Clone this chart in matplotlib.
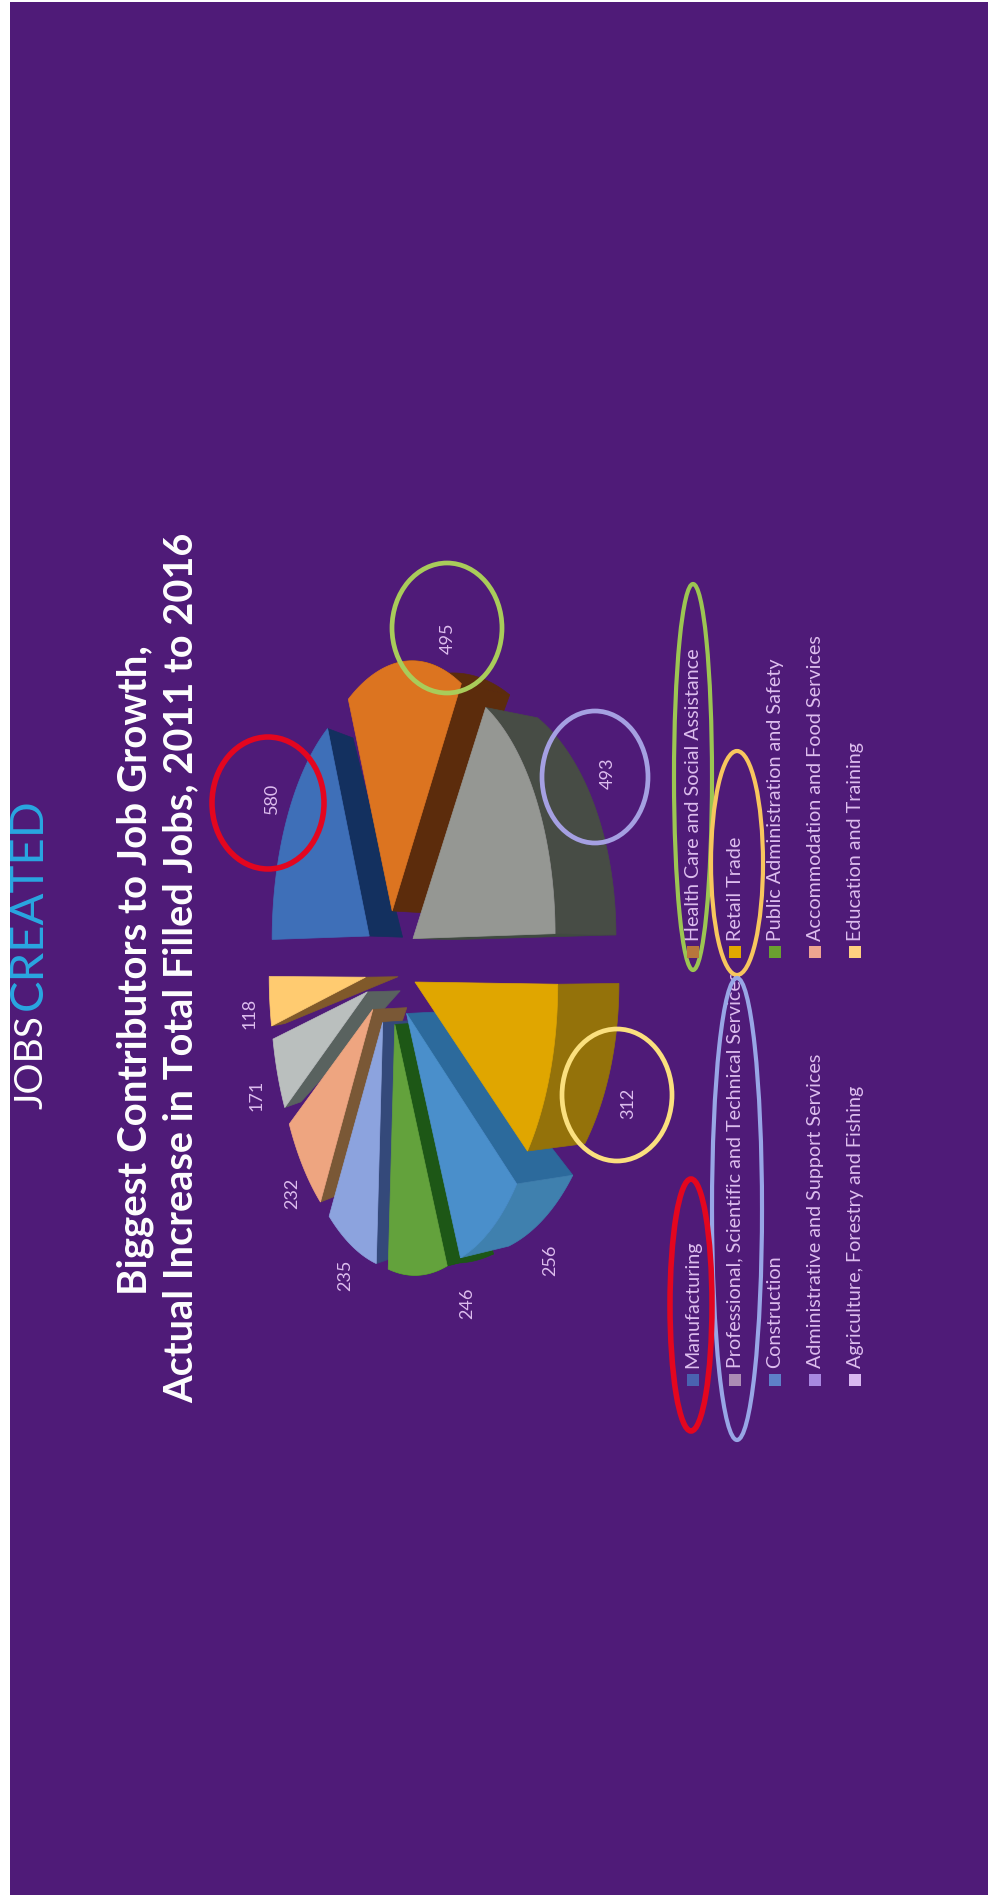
import numpy as np
import matplotlib
matplotlib.use('Agg')
import matplotlib.pyplot as plt
from matplotlib.patches import Polygon, Rectangle, Ellipse

plt.rcParams['font.family'] = ['Lato', 'DejaVu Sans']

categories = ['Manufacturing', 'Health Care and Social Assistance',
              'Professional, Scientific and Technical Services', 'Retail Trade',
              'Construction', 'Public Administration and Safety',
              'Administrative and Support Services', 'Accommodation and Food Services',
              'Agriculture, Forestry and Fishing', 'Education and Training']
values = [580, 495, 493, 312, 256, 246, 235, 232, 171, 118]

# slice colours in pie order: top face, cut face, rim
top_colors = ['#3E6FB8', '#DC7420', '#959793', '#E0A600', '#4A8FCB',
              '#63A23C', '#8CA3DE', '#EEA580', '#BABFBE', '#FFCB70']
cut_colors = ['#13305F', '#5C2C0C', '#3F4A40', '#8F6E00', '#2C6A9C',
              '#1D5716', '#34497A', '#7A5836', '#59625F', '#80592A']
rim_colors = ['#13305F', '#5C2C0C', '#474C45', '#94720A', '#3F80AE',
              '#1D5716', '#34497A', '#7A5836', '#59625F', '#80592A']

legend_colors = ['#4A62B0', '#B8763C', '#AC8CB4', '#E0A800', '#5E80C8',
                 '#6AA030', '#A888E0', '#EEA590', '#D8B8F0', '#FFD080']

BG = '#4F1B78'
TXT = '#DDBDEE'

# pie projection (picture is turned 90 deg, pie top points to the left)
CX, CY = 390, 965
A, B, P = 246, 115.7, 0.137
EXPLODE = 0.22


def project(X, Y, shift=0):
    w = 1 + P * Y
    return CX - B * Y / w, CY - A * X / w + shift


def lower(x, y, Y):
    # the bottom of the pie wall
    return x + 37 - 20 * Y, CY + 0.96 * (y - CY)


fig = plt.figure(figsize=(9.88, 18.95), dpi=100, facecolor='white')
ax = fig.add_axes([0, 0, 1, 1])
ax.set_xlim(0, 988)
ax.set_ylim(1895, 0)
ax.axis('off')
ax.add_patch(Rectangle((10, 2), 978, 1893, fc=BG, ec='none', zorder=0))

angles = np.cumsum([0] + values) / sum(values) * 2 * np.pi
slices = []
for i in range(len(values)):
    t0, t1 = angles[i], angles[i + 1]
    mid = (t0 + t1) / 2
    ex, ey = EXPLODE * np.sin(mid), EXPLODE * np.cos(mid)
    slices.append((np.cos(mid), i, t0, t1, ex, ey))

# far slices first, near ones on top
z = 2
for _, i, t0, t1, ex, ey in sorted(slices, key=lambda s: -s[0]):
    # the lower half sits a little further down in the reference
    s = 6 if t0 >= np.pi else 0
    apex = project(ex, ey, s)
    apex_low = lower(*apex, ey)

    # cut face on the side that looks at the viewer
    edge = t1 if t1 <= np.pi else t0
    if t1 <= np.pi or t0 >= np.pi:
        Xr, Yr = ex + np.sin(edge), ey + np.cos(edge)
        r = project(Xr, Yr, s)
        ax.add_patch(Polygon([apex, r, lower(*r, Yr), apex_low],
                             fc=cut_colors[i], ec=cut_colors[i], lw=0.5, zorder=z))
        z += 1

    # rim, only the near half shows
    r0, r1 = max(t0, np.pi / 2), min(t1, 3 * np.pi / 2)
    if r1 > r0:
        tt = np.linspace(r0, r1, 50)
        Xs, Ys = ex + np.sin(tt), ey + np.cos(tt)
        up = [project(a, b, s) for a, b in zip(Xs, Ys)]
        down = [lower(*p, b) for p, b in zip(up, Ys)]
        ax.add_patch(Polygon(up + down[::-1], fc=rim_colors[i], ec=rim_colors[i],
                             lw=0.5, zorder=z))
        z += 1

    tt = np.linspace(t0, t1, 60)
    arc = [project(ex + np.sin(a), ey + np.cos(a), s) for a in tt]
    ax.add_patch(Polygon([apex] + arc, fc=top_colors[i], ec=top_colors[i], lw=0.5, zorder=z))
    z += 1

# value labels
label_xy = [(272, 798), (448, 638), (608, 773), (628, 1103), (550, 1260),
            (467, 1303), (345, 1275), (292, 1193), (257, 1095), (250, 1013)]
for v, (x, y) in zip(values, label_xy):
    ax.text(x, y, str(v), rotation=90, color=TXT, fontsize=13, ha='center', va='center', zorder=60)

# rings round the top four
for (x, y, rx, ry, col, lw) in [(268, 803, 56, 66, '#E3061F', 4), (447, 628, 55, 65, '#A9CC5A', 3.4),
                                (595, 777, 53, 66, '#A5A0E2', 3.4), (617, 1095, 55, 66, '#FBE07E', 3.4)]:
    ax.add_patch(Ellipse((x, y), 2 * rx, 2 * ry, fc='none', ec=col, lw=lw, zorder=70))

# legend, two columns of five
col_x = [693, 735, 775, 815, 855]
for n in range(10):
    x = col_x[n // 2]
    my = 952 if n % 2 else 1380
    ty = 941 if n % 2 else 1368
    ax.text(x, ty, categories[n], rotation=90, color=TXT, fontsize=14.2, ha='left', va='center',
            rotation_mode='anchor', zorder=50)
    ax.add_patch(Rectangle((x - 6, my - 6), 12, 12, fc=legend_colors[n], ec='none', zorder=80))

for (x, y, rx, ry, col, lw) in [(693, 777, 19, 193, '#9CC552', 3), (737, 863, 26, 112, '#F8C65E', 3),
                                (737, 1209, 25, 231, '#98A6E6', 3), (691, 1305, 21, 126, '#E3061F', 4)]:
    ax.add_patch(Ellipse((x, y), 2 * rx, 2 * ry, fc='none', ec=col, lw=lw, zorder=70))

# titles
ax.text(135, 970, 'Biggest Contributors to Job Growth,', rotation=90, color='white', fontsize=29,
        fontweight='bold', ha='center', va='center', zorder=90)
ax.text(181, 968, 'Actual Increase in Total Filled Jobs, 2011 to 2016', rotation=90, color='white',
        fontsize=28.6, fontweight='bold', ha='center', va='center', zorder=90)
ax.text(42, 1109, 'JOBS', rotation=90, color='white', fontsize=28, ha='left', va='baseline',
        rotation_mode='anchor', zorder=90)
ax.text(42, 1010, 'CREATED', rotation=90, color='#29A7E1', fontsize=34, ha='left', va='baseline',
        rotation_mode='anchor', zorder=90)

fig.savefig('out.png', dpi=100)
